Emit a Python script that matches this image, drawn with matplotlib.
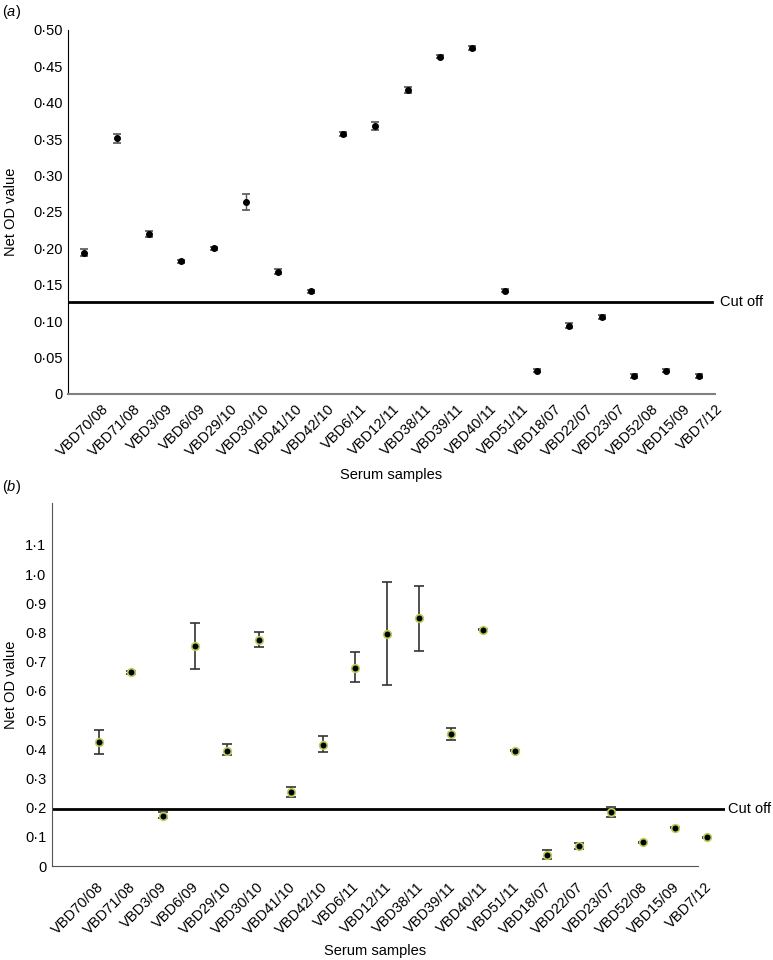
import matplotlib
matplotlib.use("Agg")
import matplotlib.pyplot as plt
import matplotlib.transforms as mtransforms

plt.rcParams["font.family"] = ["Liberation Sans", "DejaVu Sans"]
plt.rcParams["mathtext.fontset"] = "custom"
plt.rcParams["mathtext.it"] = "Liberation Sans:italic"
plt.rcParams["mathtext.rm"] = "Liberation Sans"

samples = ["VBD70/08", "VBD71/08", "VBD3/09", "VBD6/09", "VBD29/10", "VBD30/10",
           "VBD41/10", "VBD42/10", "VBD6/11", "VBD12/11", "VBD38/11", "VBD39/11",
           "VBD40/11", "VBD51/11", "VBD18/07", "VBD22/07", "VBD23/07", "VBD52/08",
           "VBD15/09", "VBD7/12"]

# panel (a)
od_a = [0.194, 0.351, 0.220, 0.182, 0.200, 0.264, 0.168, 0.141, 0.357, 0.368,
        0.418, 0.463, 0.475, 0.142, 0.032, 0.094, 0.106, 0.025, 0.032, 0.025]
err_a = [0.005, 0.006, 0.004, 0.002, 0.002, 0.011, 0.003, 0.002, 0.003, 0.005,
         0.004, 0.002, 0.003, 0.002, 0.002, 0.003, 0.003, 0.003, 0.002, 0.003]
cutoff_a = 0.126
yticks_a = [0, 0.05, 0.10, 0.15, 0.20, 0.25, 0.30, 0.35, 0.40, 0.45, 0.50]
ylabels_a = ["0", "0·05", "0·10", "0·15", "0·20", "0·25", "0·30", "0·35",
             "0·40", "0·45", "0·50"]

# panel (b)
od_b = [0.424, 0.664, 0.171, 0.754, 0.395, 0.774, 0.253, 0.415, 0.680, 0.794,
        0.851, 0.452, 0.810, 0.395, 0.037, 0.070, 0.186, 0.082, 0.131, 0.098]
upper_b = [0.467, 0.667, 0.184, 0.832, 0.417, 0.803, 0.270, 0.444, 0.733, 0.974,
           0.961, 0.472, 0.812, 0.397, 0.055, 0.080, 0.203, 0.084, 0.133, 0.100]
lower_b = [0.384, 0.657, 0.163, 0.676, 0.380, 0.750, 0.238, 0.391, 0.630, 0.620,
           0.738, 0.433, 0.808, 0.393, 0.025, 0.058, 0.169, 0.080, 0.129, 0.096]
cutoff_b = 0.194
yticks_b = [0, 0.1, 0.2, 0.3, 0.4, 0.5, 0.6, 0.7, 0.8, 0.9, 1.0, 1.1]
ylabels_b = ["0", "0·1", "0·2", "0·3", "0·4", "0·5", "0·6", "0·7", "0·8",
             "0·9", "1·0", "1·1"]

fig = plt.figure(figsize=(7.73, 9.6), dpi=100)
x = list(range(len(samples)))


def sample_labels(ax, dx_px, dy_px):
    # rotated sample names, placed a bit off the tick like the original
    offset = mtransforms.ScaledTranslation(dx_px / 100, dy_px / 100,
                                           fig.dpi_scale_trans)
    trans = mtransforms.blended_transform_factory(ax.transData, ax.transAxes)
    for xi, name in zip(x, samples):
        ax.text(xi, 0, name, transform=trans + offset, rotation=45,
                ha="right", va="top", rotation_mode="anchor", fontsize=10.5,
                clip_on=False)
    ax.set_xticks([])


# ---- (a) ----
ax1 = fig.add_axes([0.088, 0.5896, 0.837, 0.3792])
eb = ax1.errorbar(x, od_a, yerr=err_a, fmt="o", ms=4, color="black",
                  ecolor="#555555", elinewidth=1, capsize=3, capthick=1.2)
for cap in eb[1]:
    cap.set_color("#8a8a8a")
ax1.axhline(cutoff_a, xmin=0, xmax=0.995, color="black", lw=2)
trans1 = mtransforms.blended_transform_factory(ax1.transAxes, ax1.transData)
ax1.text(1.008, cutoff_a, "Cut off", transform=trans1, fontsize=10.5,
         va="center", ha="left")
ax1.set_xlim(-0.5, 19.5)
ax1.set_ylim(0, 0.5)
ax1.set_yticks(yticks_a)
ax1.set_yticklabels(ylabels_a, fontsize=10.5)
sample_labels(ax1, 17, -7.6)
ax1.tick_params(length=0, pad=4)
ax1.spines["top"].set_visible(False)
ax1.spines["right"].set_visible(False)
ax1.spines["left"].set_color("black")
ax1.spines["bottom"].set_color("#808080")
ax1.spines["bottom"].set_linewidth(1.5)
ax1.set_ylabel("Net OD value", fontsize=10.5, labelpad=11)
ax1.set_xlabel("Serum samples", fontsize=10.5, va="center")
ax1.xaxis.set_label_coords(0.499, -0.2225)
fig.text(0.003, 0.987, "($\\it{a}$)", fontsize=10.5, va="center", ha="left")

# ---- (b) ----
ax2 = fig.add_axes([0.0673, 0.0979, 0.8707, 0.3785])
err_lo = [v - lo for v, lo in zip(od_b, lower_b)]
err_hi = [hi - v for v, hi in zip(od_b, upper_b)]
eb2 = ax2.errorbar(x, od_b, yerr=[err_lo, err_hi], fmt="o", ms=5.5,
                   mfc="black", mec="#b8d058", mew=1.2, ecolor="#333333",
                   elinewidth=1.2, capsize=3.5, capthick=2)
eb2[1][0].set_color("#8c8c8c")
eb2[1][1].set_color("#6b5a96")
ax2.axhline(cutoff_b, color="black", lw=2)
trans2 = mtransforms.blended_transform_factory(ax2.transAxes, ax2.transData)
ax2.text(1.005, cutoff_b, "Cut off", transform=trans2, fontsize=10.5,
         va="center", ha="left")
ax2.set_xlim(-1.47, 19.55)
ax2.set_ylim(0, 1.245)
ax2.spines["bottom"].set_bounds(-1.47, 18.7)
ax2.set_yticks(yticks_b)
ax2.set_yticklabels(ylabels_b, fontsize=10.5)
sample_labels(ax2, -3, -13.6)
ax2.tick_params(length=0, pad=4)
ax2.spines["top"].set_visible(False)
ax2.spines["right"].set_visible(False)
ax2.spines["left"].set_color("#555555")
ax2.spines["bottom"].set_color("#555555")
ax2.set_ylabel("Net OD value", fontsize=10.5, labelpad=5.5)
ax2.set_xlabel("Serum samples", fontsize=10.5, va="center")
ax2.xaxis.set_label_coords(0.48, -0.234)
fig.text(0.003, 0.493, "($\\it{b}$)", fontsize=10.5, va="center", ha="left")

fig.savefig("out.png", dpi=100)
